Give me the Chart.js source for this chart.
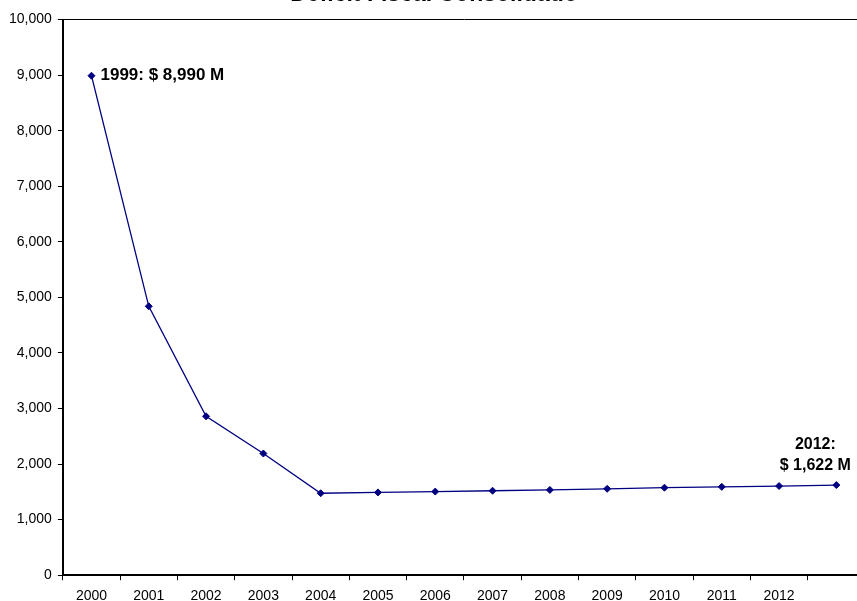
<!DOCTYPE html>
<html lang="es">

<head>
    <meta charset="UTF-8">
    <title>Deficit Fiscal Consolidado</title>
    <script src="https://cdn.jsdelivr.net/npm/chart.js"></script>
    <style>
        html, body {
            margin: 0;
            padding: 0;
            background: #fff;
        }

        #frame {
            position: relative;
            width: 857px;
            height: 601px;
            overflow: hidden;
        }

        #deficit-chart {
            position: absolute;
            left: 0;
            top: -30px;
        }
    </style>
</head>

<body>
    <div id="frame">
        <canvas id="deficit-chart" width="880" height="643"></canvas>
    </div>

    <script>
        // data (millions)
        const categories = ['2000', '2001', '2002', '2003', '2004', '2005', '2006',
            '2007', '2008', '2009', '2010', '2011', '2012', ''];
        const deficit = [8990, 4840, 2860, 2190, 1475, 1490, 1505, 1520, 1535, 1555, 1575, 1590, 1605, 1622];
        const yMin = 0;
        const yMax = 10000;
        const yStep = 1000;
        const firstNote = ['1999: $ 8,990 M'];
        const lastNote = ['2012:', '$ 1,622 M'];

        const fontFamily = '"Liberation Sans", Arial, sans-serif';
        const navy = '#000080';

        // writes the two value notes next to the first and last point
        const notesPlugin = {
            id: 'notes',
            afterDatasetsDraw(chart) {
                const ctx = chart.ctx;
                const pts = chart.getDatasetMeta(0).data;
                const first = pts[0];
                const last = pts[pts.length - 1];
                ctx.save();
                ctx.fillStyle = '#000';
                ctx.textBaseline = 'middle';

                ctx.font = 'bold 17px ' + fontFamily;
                ctx.textAlign = 'left';
                firstNote.forEach((line, i) => {
                    ctx.fillText(line, first.x + 9, first.y + i * 21);
                });

                ctx.font = 'bold 16px ' + fontFamily;
                ctx.textAlign = 'center';
                lastNote.forEach((line, i) => {
                    ctx.fillText(line, last.x - 21, last.y - 19 - (lastNote.length - 1 - i) * 21);
                });
                ctx.restore();
            }
        };

        const ctx = document.getElementById('deficit-chart').getContext('2d');
        new Chart(ctx, {
            type: 'line',
            data: {
                labels: categories,
                datasets: [{
                    label: 'Deficit',
                    data: deficit,
                    borderColor: navy,
                    backgroundColor: navy,
                    borderWidth: 1.3,
                    pointStyle: 'rectRot',
                    pointRadius: 3.5,
                    pointBorderWidth: 1,
                    pointBackgroundColor: navy,
                    pointBorderColor: navy,
                    tension: 0,
                }],
            },
            options: {
                responsive: false,
                animation: false,
                layout: {
                    padding: { left: 3, right: 15, top: 0, bottom: 0 },
                },
                plugins: {
                    legend: { display: false },
                    tooltip: { enabled: false },
                    title: {
                        display: true,
                        text: 'Deficit Fiscal Consolidado',
                        color: '#000',
                        font: { family: fontFamily, size: 23, weight: 'bold' },
                        padding: { top: 11, bottom: 11 },
                    },
                },
                scales: {
                    x: {
                        type: 'category',
                        offset: true,
                        grid: {
                            offset: true,
                            drawOnChartArea: false,
                            drawTicks: true,
                            tickLength: 5,
                            color: '#000',
                        },
                        border: { display: true, color: '#000', width: 2 },
                        ticks: {
                            color: '#000',
                            autoSkip: false,
                            maxRotation: 0,
                            padding: 8,
                            font: { family: fontFamily, size: 14 },
                        },
                    },
                    y: {
                        min: yMin,
                        max: yMax,
                        grid: {
                            drawOnChartArea: true,
                            tickLength: 5,
                            color: c => (c.tick && c.tick.value === yMax ? '#000' : 'rgba(0,0,0,0)'),
                            tickColor: '#000',
                            lineWidth: 1,
                        },
                        border: { display: true, color: '#000', width: 2 },
                        ticks: {
                            stepSize: yStep,
                            color: '#000',
                            padding: 6,
                            font: { family: fontFamily, size: 14 },
                            callback: v => v.toLocaleString('en-US'),
                        },
                    },
                },
            },
            plugins: [notesPlugin],
        });
    </script>
</body>

</html>
